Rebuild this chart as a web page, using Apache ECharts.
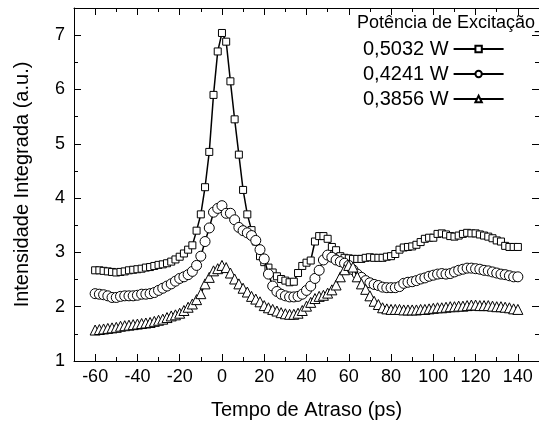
<!DOCTYPE html>
<html>
<head>
<meta charset="utf-8">
<script src="https://cdn.jsdelivr.net/npm/echarts@6/dist/echarts.min.js"></script>
<style>
html,body{margin:0;padding:0;background:#fff;}
#chart{width:539px;height:428px;}
</style>
</head>
<body>
<div id="chart"></div>
<script>
// Delay times (ps)
var delays = [-60,-58,-56,-54,-52,-50,-48,-46,-44,-42,-40,-38,-36,-34,-32,-30,-28,-26,-24,-22,-20,-18,-16,-14,-12,-10,-8,-6,-4,-2,0,2,4,6,8,10,12,14,16,18,20,22,24,26,28,30,32,34,36,38,40,42,44,46,48,50,52,54,56,58,60,62,64,66,68,70,72,74,76,78,80,82,84,86,88,90,92,94,96,98,100,102,104,106,108,110,112,114,116,118,120,122,124,126,128,130,132,134,136,138,140];

// 0,5032 W (squares)
var p5032 = [2.67,2.67,2.66,2.65,2.64,2.63,2.64,2.65,2.67,2.68,2.69,2.70,2.72,2.73,2.75,2.77,2.78,2.80,2.83,2.87,2.92,2.98,3.05,3.13,3.40,3.70,4.20,4.85,5.90,6.70,7.04,6.88,6.15,5.45,4.80,4.15,3.70,3.41,3.20,2.93,2.82,2.72,2.63,2.56,2.51,2.48,2.45,2.46,2.62,2.75,2.81,2.85,3.20,3.30,3.30,3.25,3.10,3.04,2.93,2.90,2.89,2.88,2.88,2.88,2.90,2.91,2.90,2.90,2.90,2.92,2.93,2.97,3.05,3.09,3.10,3.11,3.14,3.19,3.25,3.27,3.27,3.34,3.35,3.33,3.30,3.29,3.31,3.34,3.36,3.35,3.35,3.33,3.31,3.29,3.26,3.22,3.20,3.12,3.10,3.10,3.10];

// 0,4241 W (circles)
var p4241 = [2.24,2.23,2.22,2.20,2.17,2.17,2.19,2.20,2.20,2.20,2.21,2.23,2.23,2.24,2.26,2.30,2.34,2.38,2.42,2.47,2.52,2.55,2.59,2.65,2.76,2.93,3.20,3.45,3.74,3.81,3.86,3.72,3.72,3.60,3.46,3.40,3.36,3.31,3.22,3.05,2.88,2.60,2.38,2.28,2.23,2.20,2.18,2.18,2.19,2.23,2.30,2.38,2.52,2.67,2.86,2.95,2.91,2.86,2.83,2.80,2.76,2.68,2.60,2.54,2.48,2.44,2.41,2.39,2.36,2.35,2.35,2.35,2.37,2.43,2.45,2.46,2.48,2.51,2.53,2.56,2.58,2.60,2.61,2.60,2.61,2.64,2.67,2.69,2.71,2.71,2.70,2.69,2.67,2.66,2.64,2.62,2.60,2.59,2.57,2.55,2.55];

// 0,3856 W (triangles)
var p3856 = [1.57,1.58,1.59,1.60,1.61,1.62,1.64,1.65,1.66,1.67,1.68,1.69,1.70,1.71,1.73,1.75,1.77,1.80,1.83,1.85,1.88,1.93,1.99,2.05,2.13,2.24,2.42,2.54,2.66,2.70,2.76,2.72,2.62,2.51,2.42,2.34,2.27,2.19,2.14,2.09,2.02,1.98,1.95,1.92,1.89,1.87,1.86,1.86,1.88,1.93,2.01,2.08,2.15,2.19,2.21,2.25,2.31,2.40,2.55,2.68,2.76,2.73,2.55,2.42,2.32,2.20,2.10,2.04,1.98,1.96,1.95,1.95,1.95,1.94,1.94,1.94,1.94,1.95,1.95,1.96,1.97,1.98,1.98,1.99,2.00,2.00,2.01,2.01,2.02,2.03,2.03,2.02,2.02,2.02,2.01,2.00,2.00,1.99,1.98,1.96,1.95];

var seriesNames = ['0,5032 W', '0,4241 W', '0,3856 W'];
var legendTitle = 'Potência de Excitação_';
var xTitle = 'Tempo de Atraso (ps)';
var yTitle = 'Intensidade Integrada (a.u.)';

var xMajorTicks = [-60,-40,-20,0,20,40,60,80,100,120,140];
var xMinorTicks = [-70,-50,-30,-10,10,30,50,70,90,110,130,150];
var yMajorTicks = [1,2,3,4,5,6,7];
var yMinorTicks = [1.5,2.5,3.5,4.5,5.5,6.5,7.5];
var xMin = -70, xMax = 150, yMin = 1, yMax = 7.5;

function pairs(ys) {
  var out = [];
  for (var i = 0; i < ys.length; i++) out.push([delays[i], ys[i]]);
  return out;
}

var FONT = 'Liberation Sans, Arial, sans-serif';
var black = '#000';

function xAx(pos, ticks, len, showLabel, showLine, name) {
  var a = {
    type: 'value', position: pos, min: xMin, max: xMax,
    axisLine: {show: showLine, onZero: false, lineStyle: {color: black, width: 1}},
    axisTick: {show: true, inside: true, length: len, customValues: ticks, lineStyle: {color: black, width: 1}},
    axisLabel: {show: showLabel, customValues: ticks, color: black, fontSize: 18, fontFamily: FONT, margin: 7},
    splitLine: {show: false}
  };
  if (name) {
    a.name = name; a.nameLocation = 'middle'; a.nameGap = 39;
    a.nameTextStyle = {color: black, fontSize: 20, fontFamily: FONT};
  }
  return a;
}
function yAx(pos, ticks, len, showLabel, showLine, name) {
  var a = {
    type: 'value', position: pos, min: yMin, max: yMax,
    axisLine: {show: showLine, onZero: false, lineStyle: {color: black, width: 1}},
    axisTick: {show: true, inside: true, length: len, customValues: ticks, lineStyle: {color: black, width: 1}},
    axisLabel: {show: showLabel, customValues: ticks, color: black, fontSize: 18, fontFamily: FONT, margin: 9},
    splitLine: {show: false}
  };
  if (name) {
    a.name = name; a.nameLocation = 'middle'; a.nameGap = 42;
    a.nameTextStyle = {color: black, fontSize: 20, fontFamily: FONT};
  }
  return a;
}

var symbols = ['rect', 'circle', 'triangle'];
var sizes = [7, 10, 10];
var datas = [p5032, p4241, p3856];
var series = [];
for (var s = 0; s < 3; s++) {
  series.push({
    name: seriesNames[s], type: 'line', data: pairs(datas[s]),
    xAxisIndex: 0, yAxisIndex: 0,
    symbol: symbols[s], symbolSize: sizes[s], showAllSymbol: true,
    lineStyle: {color: black, width: 1.5},
    itemStyle: {color: '#fff', borderColor: black, borderWidth: 1},
    emphasis: {disabled: true},
    z: 2 + s
  });
}

var chart = echarts.init(document.getElementById('chart'), null, {renderer: 'canvas'});
chart.setOption({
  animation: false,
  backgroundColor: '#fff',
  grid: {left: 74, top: 8, width: 468, height: 353, containLabel: false},
  title: {
    text: legendTitle, left: 352, top: 9,
    textStyle: {color: black, fontSize: 18, fontWeight: 'normal', fontFamily: FONT}
  },
  legend: {
    orient: 'vertical', align: 'right', left: 358, top: 34,
    itemWidth: 50, itemHeight: 8, itemGap: 5,
    textStyle: {color: black, fontSize: 20, fontFamily: FONT},
    data: seriesNames
  },
  xAxis: [
    xAx('bottom', xMajorTicks, 7, true, true, xTitle),
    xAx('bottom', xMinorTicks, 4, false, false),
    xAx('top', xMajorTicks, 7, false, true),
    xAx('top', xMinorTicks, 4, false, false)
  ],
  yAxis: [
    yAx('left', yMajorTicks, 7, true, true, yTitle),
    yAx('left', yMinorTicks, 4, false, false),
    yAx('right', yMajorTicks, 7, false, true),
    yAx('right', yMinorTicks, 4, false, false)
  ],
  series: series
});
</script>
</body>
</html>
